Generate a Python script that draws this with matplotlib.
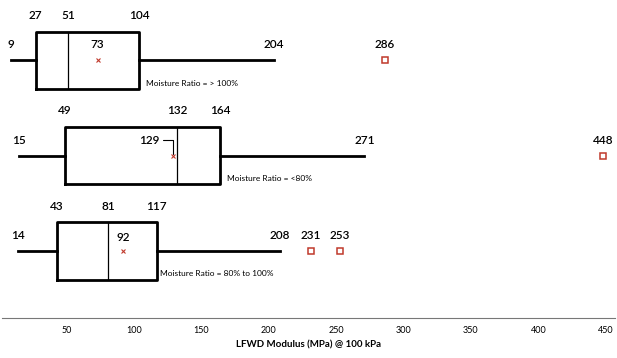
import matplotlib.pyplot as plt

plt.rcParams['font.family'] = ['Lato', 'DejaVu Sans']

# data (top box -> bottom box)
groups = ["Moisture Ratio = > 100%", "Moisture Ratio = <80%", "Moisture Ratio = 80% to 100%"]
mins = [9, 15, 14]
q1s = [27, 49, 43]
medians = [51, 132, 81]
q3s = [104, 164, 117]
maxs = [204, 271, 208]
means = [73, 129, 92]
outliers = [[286], [448], [231, 253]]
positions = [3, 2, 1]
note_x = [109, 169, 119]

red = "#c0392b"

fig = plt.figure(figsize=(6.17, 3.58), dpi=100)
ax = fig.add_axes([0.003, 0.112, 0.994, 0.888])

stats = []
for i in range(3):
    stats.append(dict(whislo=mins[i], q1=q1s[i], med=medians[i], q3=q3s[i],
                      whishi=maxs[i], mean=means[i], fliers=outliers[i], label=groups[i]))

ax.bxp(stats, positions=positions, vert=False, widths=0.6, showmeans=True,
       showcaps=False, showfliers=True,
       boxprops=dict(color="black", linewidth=2),
       whiskerprops=dict(color="black", linewidth=2),
       medianprops=dict(color="black", linewidth=0.9),
       meanprops=dict(marker="x", markeredgecolor=red, markersize=3.2, markeredgewidth=0.8),
       flierprops=dict(marker="s", markerfacecolor="white", markeredgecolor=red,
                       markersize=4.5, markeredgewidth=1.1))

fs = 8.5
for i, y in enumerate(positions):
    # numbers above the box
    for v in (q1s[i], medians[i], q3s[i]):
        ax.text(v, y + 0.47, str(v), ha="center", va="center", fontsize=fs, fontweight="semibold")
    # whisker ends and outliers
    for v in [mins[i], maxs[i]] + outliers[i]:
        ax.text(v, y + 0.16, str(v), ha="center", va="center", fontsize=fs, fontweight="semibold")
    # group note
    ax.text(note_x[i], y - 0.24, groups[i], ha="left", va="center", fontsize=6)

# mean labels
ax.text(means[0], y=positions[0] + 0.16, s=str(means[0]), ha="center", va="center",
        fontsize=fs, fontweight="semibold")
ax.text(means[2], y=positions[2] + 0.14, s=str(means[2]), ha="center", va="center",
        fontsize=fs, fontweight="semibold")
ax.annotate(str(means[1]), xy=(means[1], positions[1]), xytext=(111, positions[1] + 0.16),
            ha="center", va="center", fontsize=fs, fontweight="semibold",
            arrowprops=dict(arrowstyle="-", color="black", linewidth=0.8,
                            connectionstyle="angle,angleA=0,angleB=90,rad=0",
                            shrinkA=1, shrinkB=1))

ax.set_xlim(2, 457)
ax.set_ylim(0.30, 3.63)
ax.set_xticks([50, 100, 150, 200, 250, 300, 350, 400, 450])
ax.tick_params(axis="x", labelsize=6.5, length=0, pad=6)
ax.set_yticks([])
for s in ["top", "right", "left"]:
    ax.spines[s].set_visible(False)
ax.spines["bottom"].set_color("#777777")
ax.spines["bottom"].set_linewidth(0.8)
ax.set_xlabel("LFWD Modulus (MPa) @ 100 kPa", fontsize=7, fontweight="bold", labelpad=4)

fig.savefig("out.png", dpi=100)
